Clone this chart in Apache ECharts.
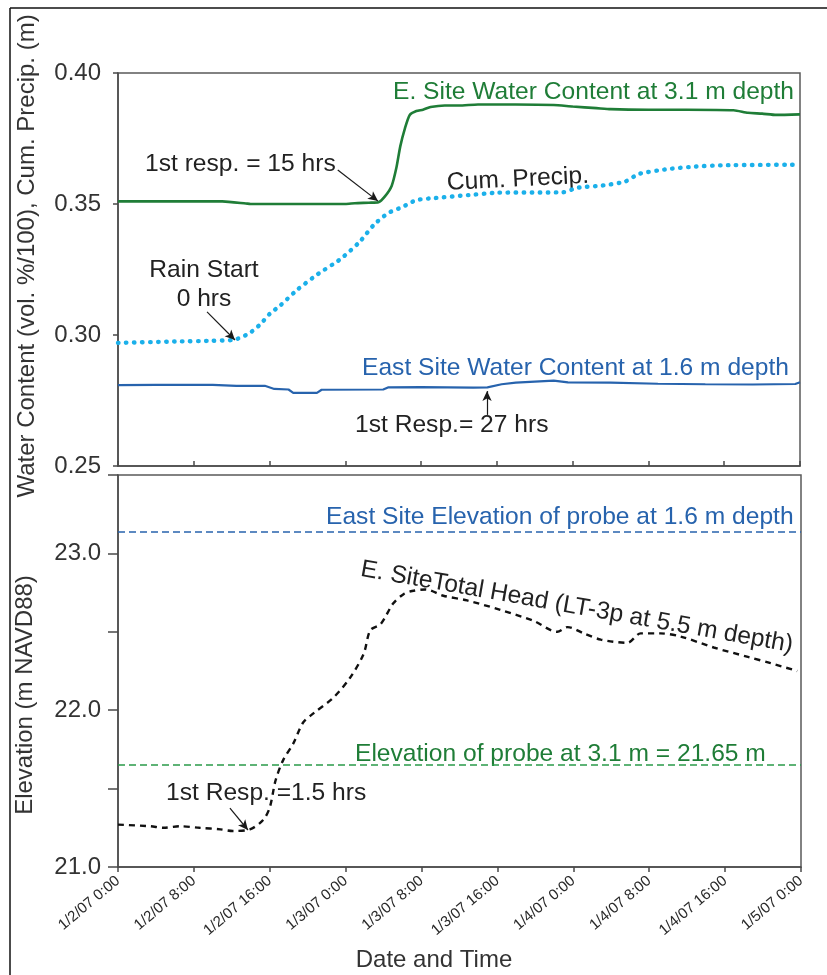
<!DOCTYPE html>
<html>
<head>
<meta charset="utf-8">
<title>Water content, precipitation and total head</title>
<script src="https://cdn.jsdelivr.net/npm/echarts@6/dist/echarts.min.js"></script>
<style>
  html, body { margin: 0; padding: 0; background: #ffffff; }
  #chart { width: 827px; height: 975px; }
</style>
</head>
<body>
<div id="chart"></div>
<script>
// Time is given in hours since 1/2/07 0:00.
const X_TICK_LABELS = ['1/2/07 0:00', '1/2/07 8:00', '1/2/07 16:00', '1/3/07 0:00', '1/3/07 8:00',
  '1/3/07 16:00', '1/4/07 0:00', '1/4/07 8:00', '1/4/07 16:00', '1/5/07 0:00'];

// E. Site water content at 3.1 m depth (vol. %/100)
const wc31Hours = [0, 4, 8, 11, 13.5, 14, 20, 24, 25, 26.5, 27.5, 28.2, 28.9, 29.4, 29.8, 30.3, 30.8, 31.5,
  32.2, 33, 34.5, 36, 38, 42, 46, 48, 50.5, 52, 56, 60, 65, 66.5, 68, 69.5, 72];
const wc31Values = [0.3510, 0.3510, 0.3510, 0.3510, 0.3502, 0.3500, 0.3500, 0.3500, 0.3503, 0.3505, 0.3507,
  0.3530, 0.3570, 0.3640, 0.3720, 0.3790, 0.3840, 0.3855, 0.3860, 0.3870, 0.3876, 0.3876, 0.3880, 0.3880,
  0.3878, 0.3872, 0.3866, 0.3862, 0.3860, 0.3860, 0.3858, 0.3848, 0.3845, 0.3840, 0.3842];

// East Site water content at 1.6 m depth (vol. %/100)
const wc16Hours = [0, 4, 10, 12.5, 15.5, 16.5, 18, 18.5, 21, 21.5, 28, 28.5, 32, 37.5, 39, 40.5, 42, 44, 46,
  47.5, 52, 57, 62, 67, 71.5, 72];
const wc16Values = [0.2809, 0.2810, 0.2810, 0.2806, 0.2806, 0.2794, 0.2792, 0.2779, 0.2779, 0.2791, 0.2792,
  0.2800, 0.2801, 0.2799, 0.2800, 0.2812, 0.2818, 0.2822, 0.2826, 0.2819, 0.2818, 0.2814, 0.2812, 0.2811,
  0.2813, 0.2820];

// Cumulative precipitation (m)
const precipHours = [0, 6, 10, 12.3, 13.8, 15, 16, 17.2, 19, 21, 23.5, 25.5, 27, 28.5, 30, 31.5, 33.5, 37,
  40, 47, 48.5, 51, 53.5, 55, 58, 61, 64, 72];
const precipValues = [0.2970, 0.2975, 0.2978, 0.2982, 0.3005, 0.3040, 0.3080, 0.3115, 0.3175, 0.3230, 0.3290,
  0.3355, 0.3420, 0.3465, 0.3488, 0.3515, 0.3523, 0.3534, 0.3543, 0.3545, 0.3562, 0.3570, 0.3585, 0.3615,
  0.3633, 0.3643, 0.3648, 0.3650];

// E. Site total head, LT-3p at 5.5 m depth (m NAVD88)
const headHours = [0, 3.4, 4.8, 6.5, 8.6, 10.8, 12.1, 13.9, 15.3, 16.0, 16.6, 17.4, 18.5, 19.5, 20.6, 22.7,
  24.5, 25.9, 26.6, 27.7, 29.0, 30.1, 31.0, 32.4, 34.3, 36.8, 40.3, 43.8, 46.3, 47.4, 49.1, 50.9, 53.7, 55.1,
  57.2, 59.3, 62.8, 66.4, 68.8, 71.6];
const headValues = [21.27, 21.26, 21.25, 21.26, 21.25, 21.24, 21.23, 21.24, 21.30, 21.38, 21.55, 21.68, 21.79,
  21.92, 21.98, 22.08, 22.21, 22.36, 22.51, 22.55, 22.68, 22.74, 22.76, 22.77, 22.73, 22.70, 22.64, 22.57,
  22.50, 22.53, 22.49, 22.45, 22.43, 22.49, 22.49, 22.47, 22.40, 22.34, 22.30, 22.25];

// Probe elevations (m NAVD88)
const probeElev16 = 23.14;
const probeElev31 = 21.65;

// Response-time arrows: [start hour, start value, end hour, end value]
const arrowWc31 = [23.2, 0.3630, 27.45, 0.3511];
const arrowRain = [9.4, 0.3088, 12.35, 0.2981];
const arrowWc16 = [38.96, 0.2695, 38.96, 0.2786];
const arrowHead = [11.8, 21.376, 13.7, 21.236];

const FONT = "'Liberation Sans', Arial, Helvetica, sans-serif";
const LABEL_FONT = '24.6px ' + FONT;
const GREEN = '#1f7d37';
const BLUE = '#2763ad';
const CYAN = '#1bb0ea';
const AXIS = '#4a4a4a';

const pairs = (xs, ys) => xs.map((x, i) => [x, ys[i]]);
const arrow = (a) => [{ coord: [a[0], a[1]], symbol: 'none' }, { coord: [a[2], a[3]], symbol: 'arrow' }];
const arrowLines = (list) => ({
  silent: true,
  symbolSize: [7, 10],
  label: { show: false },
  lineStyle: { color: '#1a1a1a', width: 1.2, type: 'solid' },
  data: list.map(arrow)
});

function xAxisFor(gridIndex, withLabels) {
  return {
    type: 'value', gridIndex, min: 0, max: 72, interval: 8,
    axisLine: { lineStyle: { color: AXIS, width: 1.5 } },
    axisTick: { inside: !withLabels, length: 5, lineStyle: { color: AXIS, width: 1.5 } },
    splitLine: { show: false },
    axisLabel: withLabels ? {
      show: true, rotate: 40, margin: 12, fontFamily: FONT, fontSize: 15, color: '#2a2a2a',
      formatter: (v) => X_TICK_LABELS[Math.round(v / 8)] || ''
    } : { show: false }
  };
}

const chart = echarts.init(document.getElementById('chart'), null, { renderer: 'canvas' });

const label = (text, x, y, color, align, rotation) => ({
  type: 'text', x, y, silent: true, rotation: rotation || 0,
  style: { text, fill: color, font: LABEL_FONT, align: align || 'left', verticalAlign: 'middle' }
});

chart.setOption({
  animation: false,
  backgroundColor: '#ffffff',
  grid: [
    { left: 118, top: 73, width: 682, height: 393, show: true, borderColor: '#5a5a5a', borderWidth: 1.5, backgroundColor: 'transparent' },
    { left: 118, top: 475, width: 683, height: 392, show: true, borderColor: '#5a5a5a', borderWidth: 1.5, backgroundColor: 'transparent' }
  ],
  xAxis: [xAxisFor(0, false), xAxisFor(1, true)],
  yAxis: [
    {
      type: 'value', gridIndex: 0, min: 0.25, max: 0.40, interval: 0.05,
      axisLine: { show: true, lineStyle: { color: AXIS, width: 1.5 } },
      axisTick: { show: true, length: 5, lineStyle: { color: AXIS, width: 1.5 } },
      splitLine: { show: false },
      axisLabel: { margin: 17, fontFamily: FONT, fontSize: 24, color: '#333', formatter: (v) => v.toFixed(2) }
    },
    {
      type: 'value', gridIndex: 1, min: 21, max: 23.5, interval: 0.5,
      axisLine: { show: true, lineStyle: { color: AXIS, width: 1.5 } },
      axisTick: { show: true, length: 10, lineStyle: { color: AXIS, width: 1.5 } },
      splitLine: { show: false },
      axisLabel: {
        margin: 17, fontFamily: FONT, fontSize: 24, color: '#333',
        formatter: (v) => (Math.abs(v - Math.round(v)) < 1e-6 ? v.toFixed(1) : '')
      }
    }
  ],
  series: [
    {
      name: 'E. Site Water Content at 3.1 m depth', type: 'line', xAxisIndex: 0, yAxisIndex: 0,
      data: pairs(wc31Hours, wc31Values), showSymbol: false, smooth: 0.2,
      lineStyle: { color: GREEN, width: 2.6 },
      markLine: arrowLines([arrowWc31, arrowRain, arrowWc16])
    },
    {
      name: 'Cum. Precip.', type: 'line', xAxisIndex: 0, yAxisIndex: 0,
      data: pairs(precipHours, precipValues), showSymbol: false, smooth: 0.2,
      lineStyle: { color: CYAN, width: 4.4, type: [0.5, 7.5], cap: 'round' }
    },
    {
      name: 'East Site Water Content at 1.6 m depth', type: 'line', xAxisIndex: 0, yAxisIndex: 0,
      data: pairs(wc16Hours, wc16Values), showSymbol: false,
      lineStyle: { color: BLUE, width: 2.2 }
    },
    {
      name: 'E. SiteTotal Head (LT-3p at 5.5 m depth)', type: 'line', xAxisIndex: 1, yAxisIndex: 1,
      data: pairs(headHours, headValues), showSymbol: false, smooth: 0.3,
      lineStyle: { color: '#111', width: 2.4, type: [6, 5] },
      markLine: {
        silent: true, symbol: 'none', label: { show: false },
        data: [
          { yAxis: probeElev16, lineStyle: { color: BLUE, width: 1.6, type: [7, 4] } },
          { yAxis: probeElev31, lineStyle: { color: '#2a9a4a', width: 1.6, type: [7, 4] } },
          ...[arrowHead].map(arrow).map((seg) => {
            seg[0].lineStyle = { color: '#1a1a1a', width: 1.2, type: 'solid' };
            seg[1].symbolSize = [7, 10];
            return seg;
          })
        ]
      }
    }
  ],
  graphic: [
    // page frame
    { type: 'line', silent: true, shape: { x1: 10, y1: 8, x2: 827, y2: 8 }, style: { stroke: '#111', lineWidth: 1.5 } },
    { type: 'line', silent: true, shape: { x1: 10, y1: 8, x2: 10, y2: 975 }, style: { stroke: '#111', lineWidth: 1.5 } },
    // axis titles
    {
      type: 'text', x: 27, y: 256, rotation: Math.PI / 2, silent: true,
      style: { text: 'Water Content (vol. %/100), Cum. Precip. (m)', fill: '#333', font: '24px ' + FONT, align: 'center', verticalAlign: 'middle' }
    },
    {
      type: 'text', x: 25, y: 695, rotation: Math.PI / 2, silent: true,
      style: { text: 'Elevation (m NAVD88)', fill: '#333', font: '24px ' + FONT, align: 'center', verticalAlign: 'middle' }
    },
    {
      type: 'text', x: 434, y: 960, silent: true,
      style: { text: 'Date and Time', fill: '#333', font: '24px ' + FONT, align: 'center', verticalAlign: 'middle' }
    },
    // upper panel annotations
    label('E. Site Water Content at 3.1 m depth', 794, 92, GREEN, 'right'),
    label('1st resp. = 15 hrs', 145, 164, '#222'),
    label('Cum. Precip.', 447, 183, '#222', 'left', 0.05),
    label('Rain Start', 204, 270, '#222', 'center'),
    label('0 hrs', 204, 299, '#222', 'center'),
    label('East Site Water Content at 1.6 m depth', 362, 368, BLUE),
    label('1st Resp.= 27 hrs', 355, 425, '#222'),
    // lower panel annotations
    label('East Site Elevation of probe at 1.6 m depth', 326, 517, BLUE),
    label('E. SiteTotal Head (LT-3p at 5.5 m depth)', 361, 569, '#222', 'left', -0.175),
    label('Elevation of probe at 3.1 m = 21.65 m', 355, 754, GREEN),
    label('1st Resp. =1.5 hrs', 166, 793, '#222')
  ]
});
</script>
</body>
</html>
